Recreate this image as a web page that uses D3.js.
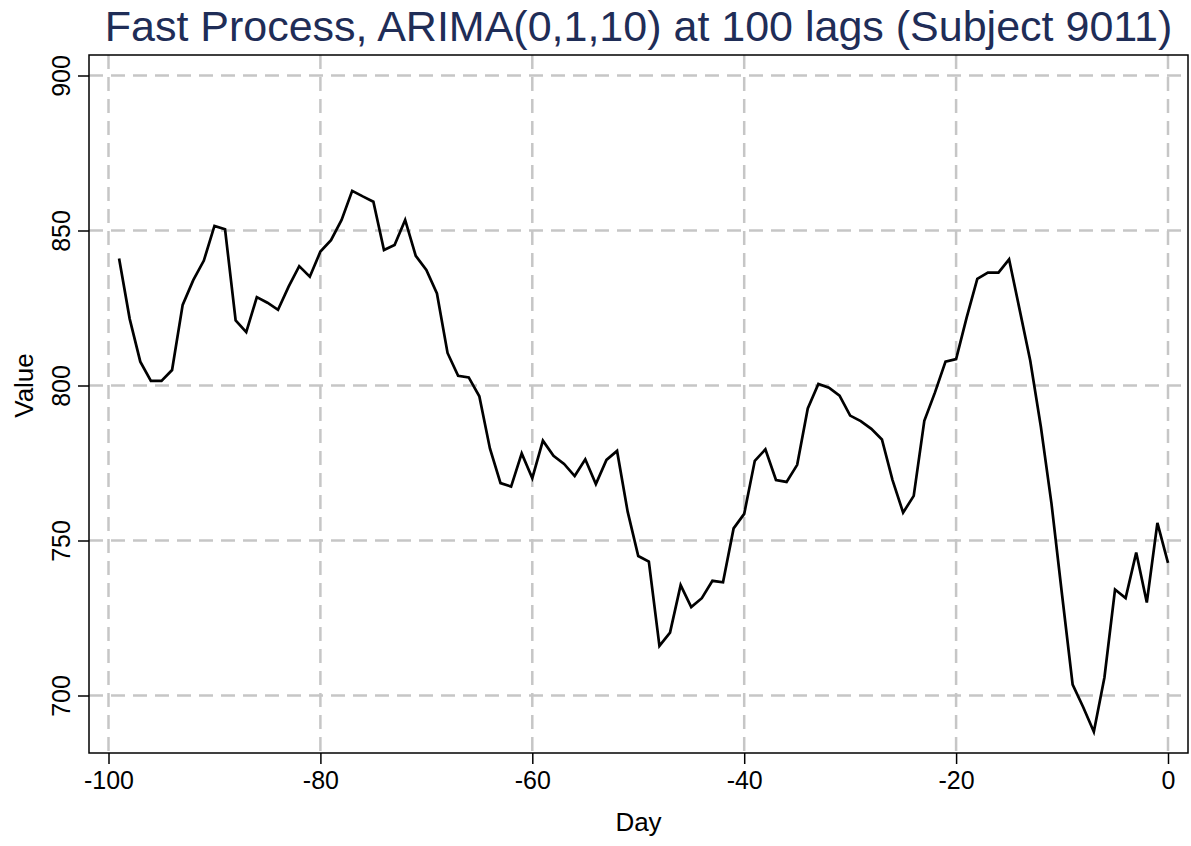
<!DOCTYPE html>
<html>
<head>
<meta charset="utf-8">
<script src="https://cdn.jsdelivr.net/npm/d3@7"></script>
<style>
  body { margin: 0; background: #fff; }
  text { font-family: "Liberation Sans", Arial, Helvetica, sans-serif; }
</style>
</head>
<body>
<div id="chart"></div>
<script>
// chart title and axis titles
var titleText = "Fast Process, ARIMA(0,1,10) at 100 lags (Subject 9011)";
var xTitle = "Day";
var yTitle = "Value";

// tick values
var xTicks = [-100, -80, -60, -40, -20, 0];
var yTicks = [700, 750, 800, 850, 900];

// days before the end of the series
var days = [-99, -98, -97, -96, -95, -94, -93, -92, -91, -90,
  -89, -88, -87, -86, -85, -84, -83, -82, -81, -80,
  -79, -78, -77, -76, -75, -74, -73, -72, -71, -70,
  -69, -68, -67, -66, -65, -64, -63, -62, -61, -60,
  -59, -58, -57, -56, -55, -54, -53, -52, -51, -50,
  -49, -48, -47, -46, -45, -44, -43, -42, -41, -40,
  -39, -38, -37, -36, -35, -34, -33, -32, -31, -30,
  -29, -28, -27, -26, -25, -24, -23, -22, -21, -20,
  -19, -18, -17, -16, -15, -14, -13, -12, -11, -10,
  -9, -8, -7, -6, -5, -4, -3, -2, -1, 0];

// value for each day
var values = [841, 821.5, 807.7, 801.5, 801.5, 805, 826, 834, 840.3, 851.5,
  850.4, 821, 817.2, 828.5, 826.7, 824.4, 831.9, 838.5, 835.1, 843.2,
  846.9, 853.4, 862.8, 861, 859.3, 843.7, 845.3, 853.4, 841.8, 837.3,
  829.7, 810.5, 803.1, 802.6, 796.5, 779.7, 768.5, 767.4, 778.1, 770.1,
  782.2, 777.3, 774.7, 770.8, 776.2, 768.2, 776, 778.9, 759.3, 745,
  743.2, 716, 720.3, 735.6, 728.5, 731.4, 737, 736.5, 753.9, 758.6,
  775.7, 779.4, 769.5, 768.9, 774.4, 792.6, 800.5, 799.3, 796.7, 790.3,
  788.5, 786, 782.6, 769.5, 759, 764.4, 788.6, 797.7, 807.7, 808.5,
  822, 834.4, 836.4, 836.4, 840.7, 824.4, 808, 786.7, 762, 732.5,
  703.5, 696.2, 688.3, 705.8, 734.2, 731.4, 746.1, 730, 755.7, 742.8];

var W = 1191, H = 846;
// plot region frame
var box = {left: 89, right: 1188, top: 55, bottom: 753};

var svg = d3.select("#chart").append("svg")
    .attr("width", W)
    .attr("height", H);

// scales
var x = d3.scaleLinear().domain([-100, 0]).range([108.5, 1168]);
var y = d3.scaleLinear().domain([700, 900]).range([695.5, 75.5]);

// plain hyphen for negative labels, like the original
var fmt = function(d) { return String(d); };

// dashed gridlines
svg.append("g").selectAll("line.hgrid")
  .data(yTicks).enter().append("line")
    .attr("x1", box.left).attr("x2", box.right)
    .attr("y1", function(d) { return y(d); })
    .attr("y2", function(d) { return y(d); })
    .attr("stroke", "#c6c6c6")
    .attr("stroke-width", 2.5)
    .attr("stroke-dasharray", "14,8");

svg.append("g").selectAll("line.vgrid")
  .data(xTicks).enter().append("line")
    .attr("x1", function(d) { return x(d); })
    .attr("x2", function(d) { return x(d); })
    .attr("y1", box.top).attr("y2", box.bottom)
    .attr("stroke", "#c6c6c6")
    .attr("stroke-width", 2.5)
    .attr("stroke-dasharray", "14,8");

// the series
var line = d3.line()
    .x(function(d, i) { return x(days[i]); })
    .y(function(d) { return y(d); });

svg.append("path")
    .datum(values)
    .attr("d", line)
    .attr("fill", "none")
    .attr("stroke", "#000")
    .attr("stroke-width", 2.7)
    .attr("stroke-linejoin", "miter");

// frame round the plot region
svg.append("rect")
    .attr("x", box.left).attr("y", box.top)
    .attr("width", box.right - box.left)
    .attr("height", box.bottom - box.top)
    .attr("fill", "none")
    .attr("stroke", "#000")
    .attr("stroke-width", 1.5);

// x axis
var xAxis = d3.axisBottom(x).tickValues(xTicks).tickFormat(fmt).tickSize(11).tickPadding(7);
var gx = svg.append("g")
    .attr("transform", "translate(0," + box.bottom + ")")
    .call(xAxis);
gx.select(".domain").remove();
gx.selectAll("line").attr("stroke", "#000").attr("stroke-width", 1.5);
gx.selectAll("text")
    .attr("font-size", 25)
    .attr("fill", "#000");

// y axis with rotated labels
var yAxis = d3.axisLeft(y).tickValues(yTicks).tickFormat(fmt).tickSize(11).tickPadding(0);
var gy = svg.append("g")
    .attr("transform", "translate(" + box.left + ",0)")
    .call(yAxis);
gy.select(".domain").remove();
gy.selectAll("line").attr("stroke", "#000").attr("stroke-width", 1.5);
gy.selectAll("text")
    .attr("font-size", 25)
    .attr("fill", "#000")
    .attr("x", 0).attr("dy", 0)
    .attr("text-anchor", "middle")
    .attr("transform", "translate(-19,0) rotate(-90)");

// axis titles
svg.append("text")
    .attr("x", (box.left + box.right) / 2)
    .attr("y", 831)
    .attr("text-anchor", "middle")
    .attr("font-size", 26)
    .text(xTitle);

svg.append("text")
    .attr("transform", "translate(33," + y(800) + ") rotate(-90)")
    .attr("text-anchor", "middle")
    .attr("font-size", 26)
    .text(yTitle);

// title
svg.append("text")
    .attr("x", (box.left + box.right) / 2)
    .attr("y", 41)
    .attr("text-anchor", "middle")
    .attr("font-size", 43)
    .attr("fill", "#1f2d57")
    .text(titleText);
</script>
</body>
</html>
